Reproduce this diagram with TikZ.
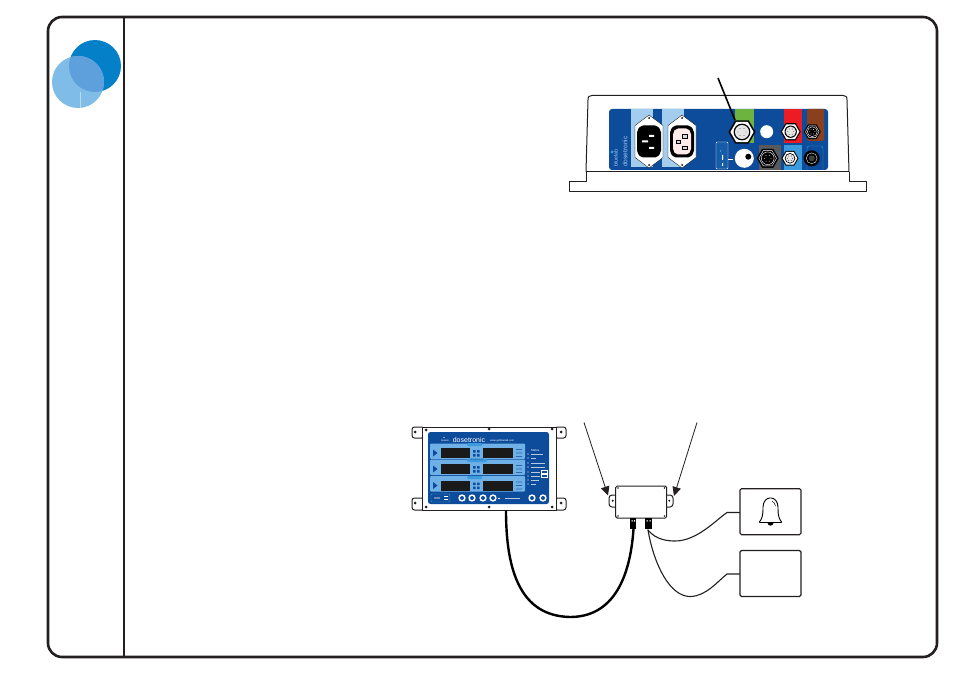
\documentclass[tikz,border=0pt]{standalone}
\usepackage{fontspec}
\setmainfont{Liberation Sans}
\usetikzlibrary{arrows.meta,calc}
\definecolor{ink}{HTML}{231F20}
\definecolor{panelblue}{HTML}{0D4C9B}
\definecolor{paleblue}{HTML}{A3CDEE}
\definecolor{midblue}{HTML}{3B9BDC}
\definecolor{rowblue}{HTML}{6FB1E6}
\definecolor{discdark}{HTML}{0480C8}
\definecolor{disclight}{HTML}{7FBCE8}
\definecolor{discmix}{HTML}{5DA0DC}
\definecolor{portgreen}{HTML}{6DB33F}
\definecolor{portred}{HTML}{ED1C24}
\definecolor{portbrown}{HTML}{8A3F1E}
\definecolor{portgrey}{HTML}{58595B}
\definecolor{lcd}{HTML}{1A1A1A}
\tikzset{
  x=1pt,y=-1pt,
  frame/.style={draw=ink,line width=2.6pt},
  divider/.style={draw=ink,line width=2pt},
  outline/.style={draw=ink,line width=1pt,line join=round},
  lead/.style={draw=ink,line width=1.1pt,line cap=round},
  cable/.style={draw=black,line width=2.4pt},
  pointer/.style={draw=ink,line width=0.8pt,-{Triangle[length=9pt,width=8.5pt]}},
  lbl/.style={inner sep=0pt,text=white,font=\fontsize{2.4}{2.8}\selectfont},
  panelname/.style={rotate=90,inner sep=0pt,text=paleblue,anchor=west},
  signalbox/.style={draw=ink,line width=1.1pt,rounded corners=1.5pt,minimum width=61pt,minimum height=46pt,inner sep=0pt},
}
% hexagon outline at a centre and circumradius
\newcommand{\hexpath}[3]{($(#1,#2)+(0:#3)$) -- ($(#1,#2)+(60:#3)$) -- ($(#1,#2)+(120:#3)$) -- ($(#1,#2)+(180:#3)$) -- ($(#1,#2)+(240:#3)$) -- ($(#1,#2)+(300:#3)$) -- cycle}
% pale connector: black rim, white collar, dark ring, white face with pins
\newcommand{\paleport}[3]{%
  \fill[black] \hexpath{#1}{#2}{#3};
  \fill[white] \hexpath{#1}{#2}{#3*0.86};
  \fill[black] (#1,#2) circle[radius=#3*0.62];
  \fill[white!90!black] (#1,#2) circle[radius=#3*0.52];
  \foreach \a in {0,60,...,300}{\fill[black] ($(#1,#2)+(\a:#3*0.3)$) circle[radius=0.4];}
}
% dark connector: black body, white ring, pins
\newcommand{\darkport}[3]{%
  \fill[black] \hexpath{#1}{#2}{#3};
  \draw[white,line width=0.4pt] \hexpath{#1}{#2}{#3*0.8};
  \draw[white,line width=0.4pt] (#1,#2) circle[radius=#3*0.58];
  \foreach \a in {0,60,...,300}{\fill[white] ($(#1,#2)+(\a:#3*0.3)$) circle[radius=0.45];}
}
% mains inlet: lozenge flange around a chamfered socket
\newcommand{\inlet}[3]{%
  \fill[white,draw=black,line width=0.3pt,line join=round] (#1,#2-26.5) -- (#1+14,#2-16) -- (#1+14,#2+16) -- (#1,#2+26.5) -- (#1-14,#2+16) -- (#1-14,#2-16) -- cycle;
  \fill[black,rounded corners=2pt] (#1-8,#2-16) -- (#1+8,#2-16) -- (#1+12,#2-11) -- (#1+12,#2+11) -- (#1+8,#2+16) -- (#1-8,#2+16) -- (#1-12,#2+11) -- (#1-12,#2-11) -- cycle;
  \fill[#3,rounded corners=2pt] (#1-6,#2-13) -- (#1+6,#2-13) -- (#1+9,#2-9) -- (#1+9,#2+9) -- (#1+6,#2+13) -- (#1-6,#2+13) -- (#1-9,#2+9) -- (#1-9,#2-9) -- cycle;
  \fill[black] (#1,#2-23.5) circle[radius=1] (#1,#2+23.5) circle[radius=1];
}
% one row of the front panel: pale band, two displays, marker and key squares
\newcommand{\lcdrow}[3]{%
  \fill[rowblue,rounded corners=1pt] (430,#1) rectangle (525,#1+15.5);
  \fill[lcd] (441,#2) rectangle (470,#3);
  \fill[lcd] (483,#2) rectangle (513,#3);
  \fill[panelblue] (433,#2+1.5) -- (437.5,#2+5) -- (433,#2+8.5) -- cycle;
  \fill[panelblue] (473,#2+2) rectangle +(2.5,2.5) (477,#2+2) rectangle +(2.5,2.5) (473,#2+6) rectangle +(2.5,2.5) (477,#2+6) rectangle +(2.5,2.5);
  \fill[panelblue!70!rowblue] (516,#2+1) rectangle +(6,0.8) (516,#2+4.5) rectangle +(6,0.8) (516,#2+8) rectangle +(6,0.8);
}
\begin{document}
\begin{tikzpicture}
\useasboundingbox (0,0) rectangle (954,674);
\fill[white] (0,0) rectangle (954,674);

% page frame and side column
\draw[frame,rounded corners=14pt] (48,17) rectangle (937,657);
\draw[divider] (124,17) -- (124,657);

% overlapping discs
\fill[discdark] (95,66) circle[radius=26];
\fill[disclight] (78,82) circle[radius=26];
\begin{scope}
  \clip (95,66) circle[radius=26];
  \fill[discmix] (78,82) circle[radius=26];
\end{scope}
\draw[white!45!disclight,line width=0.5pt] (80,92) -- (80,108);

% rear housing of the controller
\draw[outline] (586,172) -- (588,100) .. controls (588,96.5) and (589,95.5) .. (592,95.5) -- (843,95.5) .. controls (846,95.5) and (847,96.5) .. (847,100) -- (849,172);
\draw[outline] (586,172) -- (586,182) -- (569,182) -- (569,192) -- (866,192) -- (866,182) -- (849,182) -- (849,172);
\draw[outline] (586,172) -- (849,172);

% connector panel
\fill[panelblue,rounded corners=3pt] (609,109) rectangle (828,170);
\fill[paleblue] (631,109) rectangle (653,167);
\fill[paleblue] (662,109) rectangle (684,167);
\fill[portgreen] (735,109) rectangle (754,143);
\fill[portred] (784,109) rectangle (802,143);
\fill[portbrown,rounded corners=1.5pt] (807,109) -- (824,109) -- (824,141) -- (807,141) -- cycle;
\fill[portgrey] (759,145) rectangle (781,170);
\fill[midblue] (784,145) rectangle (802,170);
\draw[midblue,line width=0.4pt,rounded corners=1.5pt] (807,170) -- (807,146) -- (823,146) -- (823,170);
\draw[white,line width=0.4pt,rounded corners=1pt,fill=panelblue!80!midblue] (716,142) rectangle (728,169);
\fill[white] (720.5,151) circle[radius=0.5] (722,155) rectangle (723,160) (722,163) rectangle (723,166);
\draw[white,line width=0.4pt] (728,159) -- (733,159);

% mains inlets
\inlet{649}{141.5}{black}
\fill[white] (649,135) rectangle (654,137) (642,140.5) rectangle (648,142.5) (649,147) rectangle (654,149);
\inlet{682}{141.5}{white!92!red}
\draw[black,line width=0.5pt,fill=white!85!black] (676,140) rectangle (680,143.5) (682,134.5) rectangle (687,138) (682,146) rectangle (687,149.5);

% round connectors
\paleport{742}{132}{13.5}
\fill[white] (766.7,131.7) circle[radius=6.5];
\paleport{790.7}{131.7}{10}
\darkport{812.3}{131.7}{8.5}
\fill[white] (744.3,158.3) circle[radius=9.5];
\fill[black] (748.3,156.7) circle[radius=3];
\darkport{767.7}{158.3}{11}
\paleport{790}{158.3}{8.5}
\fill[black] (811.7,158.3) circle[radius=8];
\draw[white,line width=0.35pt] (811.7,158.3) circle[radius=5.4];
\fill[white!25!black] (811.7,158.3) circle[radius=3];

% maker's name up the panel's edge
\fill[midblue] (612,152) circle[radius=1.6];
\node[panelname,font=\fontsize{5.2}{5.2}\selectfont] (panelmaker) at (615.7,167) {bluelab};
\node[panelname,font=\fontsize{6.6}{6.6}\selectfont] (panelmodel) at (625,167) {dosetronic};

% lead to the green port
\coordinate (leadtop) at (718,78);
\coordinate (leadend) at (735,120);
\draw[draw=black,line width=1.6pt] (leadtop) -- (leadend);

% dosing controller, front view
\draw[outline,rounded corners=2.5pt] (412,427) rectangle (424,438);
\draw[outline,rounded corners=2.5pt] (555,427) rectangle (566,438);
\draw[outline,rounded corners=2.5pt] (412,498) rectangle (424,510);
\draw[outline,rounded corners=2.5pt] (555,498) rectangle (566,510);
\fill[white,draw=ink,line width=1pt] (422,427) rectangle (556,510);
\fill[ink] (415,432) circle[radius=1.5] (561,432) circle[radius=1.5] (415,503) circle[radius=1.5] (561,503) circle[radius=1.5];
\fill[ink] (426,430) circle[radius=1.5] (489,429) circle[radius=1.5] (552,429) circle[radius=1.5] (426,507) circle[radius=1.5] (489,507) circle[radius=1.5] (552,507) circle[radius=1.5];
\fill[panelblue,rounded corners=2.5pt] (428,432) rectangle (549,504);
\fill[white] (444,437.5) circle[radius=0.7];
\node[lbl] (frontmaker) at (445,440.5) {bluelab};
\node[inner sep=0pt,text=white,font=\fontsize{7}{7}\selectfont] (frontmodel) at (469,440) {dosetronic};
\node[lbl,anchor=west,font=\fontsize{2.6}{3}\selectfont] (fronturl) at (490,440.5) {www.getbluelab.com};
\lcdrow{443.5}{448}{458}
\lcdrow{459.5}{464}{474}
\lcdrow{476}{480.5}{491}
\fill[midblue,rounded corners=1pt] (467,443) rectangle (482,446);
\fill[midblue,rounded corners=1pt] (467,458.5) rectangle (487,462);
\fill[midblue,rounded corners=1pt] (467,476) rectangle (482,479);
\node[lbl,text=panelblue] (rowtemp) at (477,460.3) {Temperature};
% status list at the right of the panel
\node[lbl,font=\fontsize{3}{3}\selectfont] (statushead) at (535,450) {Status};
\foreach \y/\l in {454/16,458/7,463/18,467/18,472/12,476/12,480/10,484/7}{
  \fill[white] (528,\y) circle[radius=0.7];
  \fill[white!70!panelblue] (530.5,\y-0.4) rectangle +(\l*0.8,0.8);
}
\draw[white,line width=0.3pt] (541,470.5) rectangle (547,473.5) (541,474.5) rectangle (547,477.5);
% keypad
\draw[midblue,line width=0.4pt,rounded corners=1pt] (431,494) rectangle (450,502);
\fill[white] (434,497.5) rectangle +(6,0.8) (444,496) rectangle +(4,0.8) (444,499) rectangle +(4,0.8);
\foreach \x in {462,472,483,493,532,543}{
  \fill[white] (\x,498) circle[radius=3.7];
  \fill[panelblue] (\x,498) circle[radius=2];
}
\fill[white] (498,497.6) rectangle +(2,0.8);
\fill[white!70!panelblue] (505,497.6) rectangle +(15,0.8);

% interface box with its fixing ears
\draw[outline,rounded corners=3pt] (609,495) rectangle (620,507);
\draw[outline,rounded corners=3pt] (662,495) rectangle (673,507);
\fill[white,draw=ink,line width=1pt,rounded corners=1.5pt] (615.7,486) rectangle (666.7,518);
\fill[ink] (612.7,500.7) circle[radius=1.1] (669.3,500.7) circle[radius=1.1];
\fill[ink] (618,488) circle[radius=0.9] (664.5,488) circle[radius=0.9] (618,516) circle[radius=0.9] (664.5,516) circle[radius=0.9];
% cable glands
\fill[black] (630,518) rectangle (636,529);
\fill[black] (645,518) rectangle (652,529);
\fill[white] (631.5,520) rectangle +(1,1.5) (634,520) rectangle +(1,1.5) (646.5,520) rectangle +(1,1.5) (649.5,520) rectangle +(1,1.5);
\coordinate (glandA) at (633.5,529);
\coordinate (glandB) at (648,530);
\coordinate (frontout) at (506,510.5);

% fixing pointers
\coordinate (earL) at (608,495.5);
\coordinate (earR) at (674,496);
\coordinate (pointL) at (584,422.5);
\coordinate (pointR) at (697,422.5);
\draw[pointer] (pointL) -- (earL);
\draw[pointer] (pointR) -- (earR);

% alarm and auxiliary boxes
\node[signalbox] (alarm) at (770.5,511.7) {};
\node[signalbox] (aux) at (770.5,573.5) {};

% bell
\draw[draw=black,line width=0.9pt,line join=round,rounded corners=0.8pt] (759,522.5) .. controls (762,519) and (763,515) .. (763,508) .. controls (763,501) and (767,498) .. (770.5,498) .. controls (774,498) and (778,501) .. (778,508) .. controls (778,515) and (779,519) .. (782,522.5) -- cycle;
\draw[draw=black,line width=0.5pt] (772,501) .. controls (774,502) and (775,504) .. (775.5,506);
\fill[black] (767.5,523) -- (773.5,523) .. controls (773,526.5) and (768,526.5) .. (767.5,523) -- cycle;

% cabling
\draw[lead] (glandB) .. controls (656,540) and (668,541) .. (675,541) .. controls (697,541) and (716,520) .. (727,512.5) -- (alarm.west |- 0,512.5);
\draw[lead] (glandB) .. controls (654,565) and (670,596.5) .. (690,596.5) .. controls (706,596.5) and (718,581) .. (727,574) -- (aux.west |- 0,574);
\draw[cable] (frontout) .. controls (506,570) and (520,616) .. (570,617) .. controls (612,617) and (630,580) .. (glandA);
\end{tikzpicture}
\end{document}
